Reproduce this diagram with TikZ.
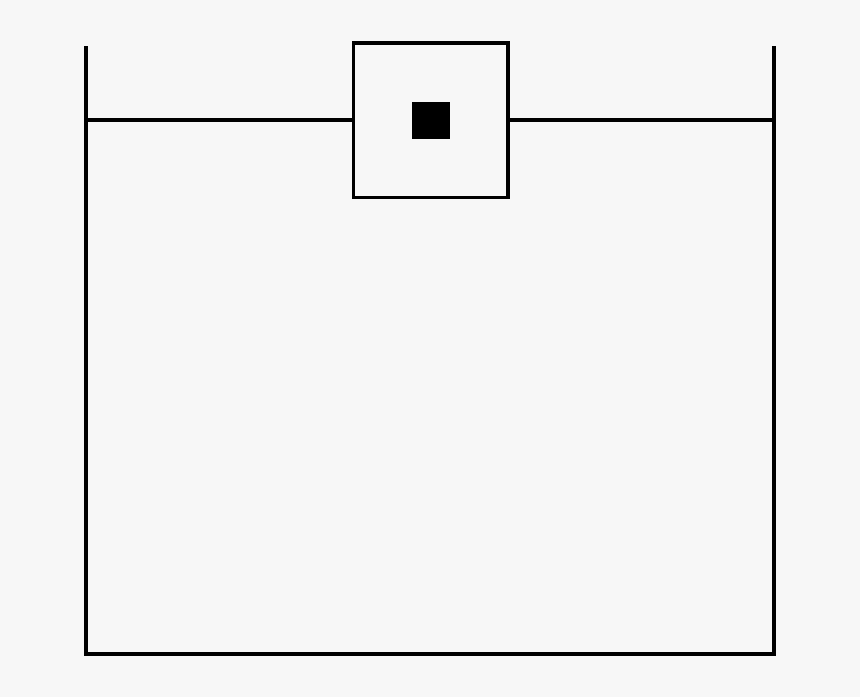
\documentclass[tikz,border=0pt]{standalone}
\usepackage{tikz}
\usetikzlibrary{positioning}

\begin{document}
\begin{tikzpicture}[x=1pt,y=-1pt,line width=3.8pt]
		\fill [black!3] (0,0) rectangle (860,697);
		\useasboundingbox (0,0) rectangle (860,697);

		\coordinate (lefttop) at (86,46);
		\coordinate (leftbottom) at (86,654);
		\coordinate (righttop) at (774,46);
		\coordinate (rightbottom) at (774,654);
		\coordinate (leftwater) at (86,120.3);
		\coordinate (rightwater) at (774,120.3);

		\node [draw,rectangle,minimum size=154.5pt,inner sep=0pt] (float) at (430.8,120.3) {};
		\node [fill,rectangle,minimum size=37.6pt,inner sep=0pt] (mass) at (float.center) {};

		\draw (lefttop) -- (leftbottom);
		\draw (righttop) -- (rightbottom);
		\draw [line cap=rect] (leftbottom) -- (rightbottom);

		\draw (leftwater) -- (float.west);
		\draw (float.east) -- (rightwater);
	\end{tikzpicture}
\end{document}
